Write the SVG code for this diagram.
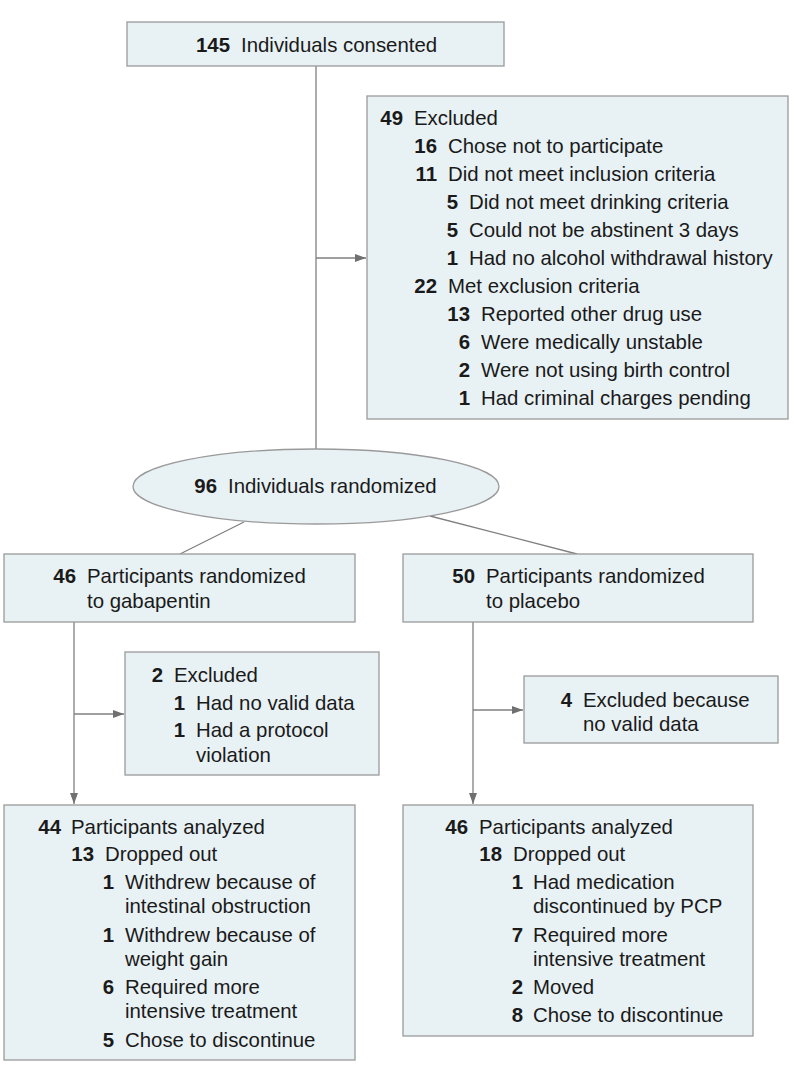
<svg xmlns="http://www.w3.org/2000/svg" width="794" height="1081" viewBox="0 0 794 1081">
<style>
.box{fill:#e8f1f4;stroke:#9a9a9a;stroke-width:1.3}
.ln{fill:none;stroke:#808080;stroke-width:1.3}
text{font-family:"Liberation Sans",Arial,sans-serif;font-size:20.4px;fill:#1a1a1a}
.n{font-weight:bold;text-anchor:end}
</style>
<defs>
<marker id="ah" markerUnits="userSpaceOnUse" markerWidth="12" markerHeight="9" refX="11" refY="4" orient="auto">
<path d="M0,0 L11,4 L0,8 Z" fill="#707070"/>
</marker>
</defs>
<rect width="794" height="1081" fill="#ffffff"/>
<g id="connectors">
<line class="ln" x1="316" y1="66" x2="316" y2="449"/>
<line class="ln" x1="316" y1="258" x2="366" y2="258" marker-end="url(#ah)"/>
<line class="ln" x1="244" y1="522" x2="180" y2="554"/>
<line class="ln" x1="430" y1="516" x2="577" y2="554"/>
<line class="ln" x1="74" y1="622" x2="74" y2="804" marker-end="url(#ah)"/>
<line class="ln" x1="74" y1="714" x2="124" y2="714" marker-end="url(#ah)"/>
<line class="ln" x1="473" y1="622" x2="473" y2="804" marker-end="url(#ah)"/>
<line class="ln" x1="473" y1="710" x2="523" y2="710" marker-end="url(#ah)"/>
</g>
<g id="consented">
<rect class="box" x="127" y="22" width="377" height="44"/>
<text class="n" x="230" y="52">145</text><text x="241" y="52">Individuals consented</text>
</g>
<g id="excluded49">
<rect class="box" x="367" y="96" width="421" height="323"/>
<text class="n" x="403" y="125">49</text><text x="414" y="125">Excluded</text>
<text class="n" x="437" y="153">16</text><text x="448" y="153">Chose not to participate</text>
<text class="n" x="437" y="181">11</text><text x="448" y="181">Did not meet inclusion criteria</text>
<text class="n" x="458" y="209">5</text><text x="469" y="209">Did not meet drinking criteria</text>
<text class="n" x="458" y="237">5</text><text x="469" y="237">Could not be abstinent 3 days</text>
<text class="n" x="458" y="265">1</text><text x="469" y="265">Had no alcohol withdrawal history</text>
<text class="n" x="437" y="293">22</text><text x="448" y="293">Met exclusion criteria</text>
<text class="n" x="470" y="321">13</text><text x="481" y="321">Reported other drug use</text>
<text class="n" x="470" y="349">6</text><text x="481" y="349">Were medically unstable</text>
<text class="n" x="470" y="377">2</text><text x="481" y="377">Were not using birth control</text>
<text class="n" x="470" y="405">1</text><text x="481" y="405">Had criminal charges pending</text>
</g>
<g id="randomized">
<ellipse class="box" cx="316" cy="486.5" rx="183" ry="37.5"/>
<text class="n" x="217" y="493">96</text><text x="228" y="493">Individuals randomized</text>
</g>
<g id="gabapentin">
<rect class="box" x="4" y="554" width="351" height="68"/>
<text class="n" x="76" y="583">46</text><text x="87" y="583">Participants randomized</text>
<text x="87" y="608">to gabapentin</text>
</g>
<g id="placebo">
<rect class="box" x="403" y="554" width="350" height="68"/>
<text class="n" x="475" y="583">50</text><text x="486" y="583">Participants randomized</text>
<text x="486" y="608">to placebo</text>
</g>
<g id="excluded2">
<rect class="box" x="125" y="652" width="254" height="123"/>
<text class="n" x="163" y="682">2</text><text x="174" y="682">Excluded</text>
<text class="n" x="185" y="710">1</text><text x="196" y="710">Had no valid data</text>
<text class="n" x="185" y="737">1</text><text x="196" y="737">Had a protocol</text>
<text x="196" y="762">violation</text>
</g>
<g id="excluded4">
<rect class="box" x="524" y="676" width="254" height="67"/>
<text class="n" x="572" y="707">4</text><text x="583" y="707">Excluded because</text>
<text x="583" y="731">no valid data</text>
</g>
<g id="analyzed44">
<rect class="box" x="4" y="805" width="351" height="255"/>
<text class="n" x="61" y="834">44</text><text x="71" y="834">Participants analyzed</text>
<text class="n" x="94" y="861">13</text><text x="105" y="861">Dropped out</text>
<text class="n" x="114" y="889">1</text><text x="125" y="889">Withdrew because of</text>
<text x="125" y="913">intestinal obstruction</text>
<text class="n" x="114" y="942">1</text><text x="125" y="942">Withdrew because of</text>
<text x="125" y="966">weight gain</text>
<text class="n" x="114" y="994">6</text><text x="125" y="994">Required more</text>
<text x="125" y="1018">intensive treatment</text>
<text class="n" x="114" y="1047">5</text><text x="125" y="1047">Chose to discontinue</text>
</g>
<g id="analyzed46">
<rect class="box" x="403" y="805" width="350" height="231"/>
<text class="n" x="468" y="834">46</text><text x="479" y="834">Participants analyzed</text>
<text class="n" x="502" y="861">18</text><text x="513" y="861">Dropped out</text>
<text class="n" x="523" y="889">1</text><text x="533" y="889">Had medication</text>
<text x="533" y="913">discontinued by PCP</text>
<text class="n" x="523" y="942">7</text><text x="533" y="942">Required more</text>
<text x="533" y="966">intensive treatment</text>
<text class="n" x="523" y="994">2</text><text x="533" y="994">Moved</text>
<text class="n" x="523" y="1022">8</text><text x="533" y="1022">Chose to discontinue</text>
</g>
</svg>
